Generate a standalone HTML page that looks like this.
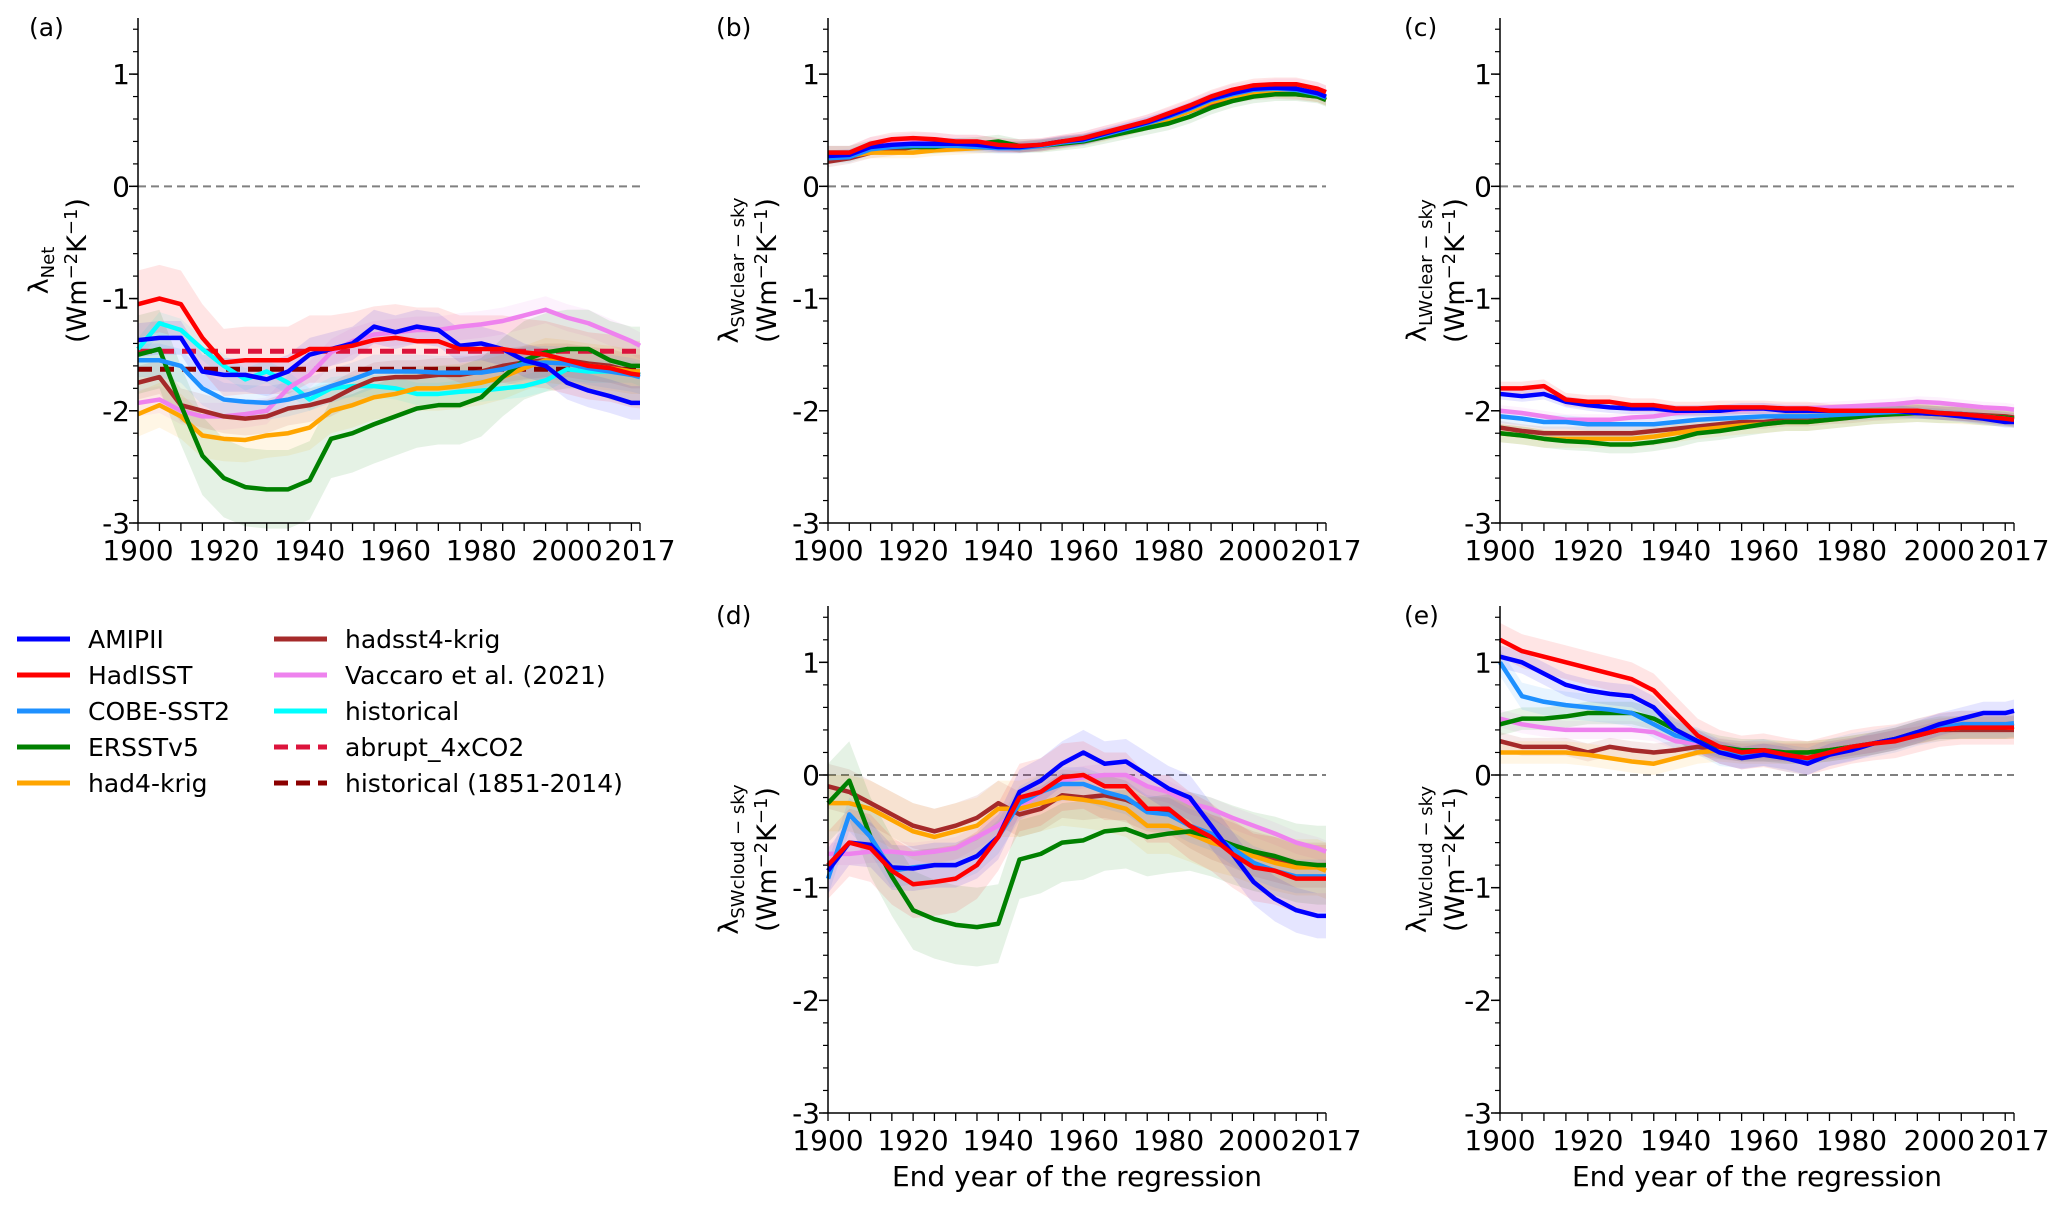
<!DOCTYPE html>
<html><head><meta charset="utf-8"><style>
html,body{margin:0;padding:0;background:#fff}
svg{display:block;font-family:"DejaVu Sans","Liberation Sans",sans-serif}
</style></head><body>
<svg id="fig" width="2067" height="1212" viewBox="0 0 2067 1212" xmlns="http://www.w3.org/2000/svg"></svg>
<script>
const years = [1900,1905,1910,1915,1920,1925,1930,1935,1940,1945,1950,1955,1960,1965,1970,1975,1980,1985,1990,1995,2000,2005,2010,2015,2017];
const seriesNames = ["historical","Vaccaro et al. (2021)","hadsst4-krig","had4-krig","ERSSTv5","COBE-SST2","AMIPII","HadISST"];
const seriesColors = ["#00ffff","#ee82ee","#a52a2a","#ffa500","#008000","#1e90ff","#0000ff","#ff0000"];
const abrupt4xCO2 = -1.47;
const historical1851 = -1.63;
// panel a: lambda Net
const aHist = [-1.45,-1.22,-1.28,-1.45,-1.6,-1.72,-1.65,-1.75,-1.9,-1.8,-1.78,-1.78,-1.8,-1.85,-1.85,-1.83,-1.82,-1.8,-1.78,-1.73,-1.63,-1.65,-1.65,-1.65,-1.68];
const aVacc = [-1.93,-1.9,-2.0,-2.05,-2.05,-2.03,-2.0,-1.8,-1.68,-1.48,-1.38,-1.32,-1.3,-1.28,-1.28,-1.25,-1.23,-1.2,-1.15,-1.1,-1.17,-1.22,-1.3,-1.38,-1.42];
const aHadsst4 = [-1.75,-1.7,-1.95,-2.0,-2.05,-2.07,-2.05,-1.98,-1.95,-1.9,-1.8,-1.72,-1.7,-1.7,-1.68,-1.68,-1.65,-1.6,-1.57,-1.55,-1.55,-1.58,-1.6,-1.65,-1.65];
const aHad4 = [-2.03,-1.95,-2.05,-2.22,-2.25,-2.26,-2.22,-2.2,-2.15,-2.0,-1.95,-1.88,-1.85,-1.8,-1.8,-1.78,-1.75,-1.7,-1.62,-1.55,-1.57,-1.6,-1.62,-1.65,-1.65];
const aErsst = [-1.5,-1.45,-1.95,-2.4,-2.6,-2.68,-2.7,-2.7,-2.62,-2.25,-2.2,-2.12,-2.05,-1.98,-1.95,-1.95,-1.88,-1.7,-1.55,-1.48,-1.45,-1.45,-1.55,-1.6,-1.6];
const aCobe = [-1.55,-1.55,-1.6,-1.8,-1.9,-1.92,-1.93,-1.9,-1.85,-1.78,-1.72,-1.65,-1.65,-1.65,-1.66,-1.66,-1.66,-1.63,-1.58,-1.57,-1.58,-1.62,-1.65,-1.68,-1.7];
const aAmip = [-1.37,-1.35,-1.35,-1.65,-1.68,-1.68,-1.72,-1.65,-1.5,-1.45,-1.4,-1.25,-1.3,-1.25,-1.28,-1.42,-1.4,-1.45,-1.55,-1.6,-1.75,-1.82,-1.87,-1.93,-1.93];
const aHadisst = [-1.05,-1.0,-1.05,-1.35,-1.57,-1.55,-1.55,-1.55,-1.45,-1.45,-1.42,-1.37,-1.35,-1.38,-1.38,-1.45,-1.45,-1.45,-1.48,-1.5,-1.55,-1.6,-1.62,-1.67,-1.68];
const aUnc = [0.1,0.12,0.15,0.2,0.35,0.15,0.15,0.3];
// panel b: SW clear-sky
const bVacc = [0.3,0.3,0.38,0.4,0.42,0.42,0.4,0.4,0.37,0.36,0.37,0.4,0.43,0.48,0.52,0.58,0.64,0.71,0.79,0.85,0.88,0.9,0.9,0.87,0.84];
const bHadsst4 = [0.22,0.25,0.3,0.32,0.35,0.35,0.35,0.35,0.35,0.35,0.37,0.4,0.42,0.46,0.5,0.55,0.6,0.67,0.74,0.79,0.82,0.83,0.82,0.8,0.77];
const bHad4 = [0.25,0.27,0.3,0.3,0.3,0.32,0.33,0.34,0.35,0.35,0.36,0.38,0.41,0.45,0.5,0.55,0.6,0.67,0.75,0.8,0.83,0.84,0.83,0.8,0.77];
const bErsst = [0.3,0.3,0.35,0.35,0.35,0.35,0.37,0.38,0.4,0.36,0.36,0.38,0.4,0.44,0.48,0.52,0.56,0.62,0.7,0.76,0.8,0.82,0.82,0.8,0.77];
const bCobe = [0.25,0.26,0.33,0.35,0.36,0.36,0.36,0.35,0.34,0.34,0.36,0.39,0.41,0.46,0.51,0.56,0.62,0.69,0.77,0.82,0.86,0.87,0.86,0.82,0.79];
const bAmip = [0.27,0.28,0.35,0.37,0.38,0.38,0.38,0.37,0.35,0.35,0.37,0.4,0.42,0.47,0.52,0.57,0.63,0.7,0.78,0.83,0.87,0.88,0.87,0.83,0.8];
const bHadisst = [0.3,0.3,0.38,0.42,0.43,0.42,0.4,0.4,0.37,0.36,0.37,0.4,0.43,0.48,0.53,0.58,0.65,0.72,0.8,0.86,0.9,0.91,0.91,0.87,0.84];
const bUnc = [0,0.06,0.05,0.05,0.06,0.05,0.05,0.06];
// panel c: LW clear-sky
const cVacc = [-2.0,-2.02,-2.05,-2.08,-2.08,-2.08,-2.06,-2.05,-2.02,-2.0,-2.0,-1.99,-1.98,-1.98,-1.98,-1.97,-1.96,-1.95,-1.94,-1.92,-1.93,-1.95,-1.97,-1.98,-1.99];
const cHadsst4 = [-2.15,-2.18,-2.2,-2.2,-2.2,-2.2,-2.2,-2.18,-2.16,-2.14,-2.12,-2.1,-2.1,-2.08,-2.08,-2.06,-2.05,-2.03,-2.02,-2.01,-2.02,-2.03,-2.04,-2.05,-2.06];
const cHad4 = [-2.2,-2.22,-2.25,-2.25,-2.25,-2.25,-2.25,-2.23,-2.2,-2.17,-2.15,-2.13,-2.12,-2.1,-2.1,-2.08,-2.06,-2.04,-2.03,-2.02,-2.03,-2.04,-2.05,-2.06,-2.07];
const cErsst = [-2.2,-2.22,-2.25,-2.27,-2.28,-2.3,-2.3,-2.28,-2.25,-2.2,-2.18,-2.15,-2.12,-2.1,-2.1,-2.08,-2.06,-2.04,-2.03,-2.02,-2.03,-2.03,-2.05,-2.06,-2.07];
const cCobe = [-2.05,-2.07,-2.1,-2.1,-2.12,-2.12,-2.12,-2.12,-2.1,-2.08,-2.07,-2.06,-2.05,-2.05,-2.05,-2.04,-2.03,-2.02,-2.01,-2.01,-2.02,-2.03,-2.05,-2.07,-2.08];
const cAmip = [-1.85,-1.87,-1.85,-1.92,-1.95,-1.97,-1.98,-1.98,-2.0,-2.0,-2.0,-1.98,-1.98,-2.0,-2.0,-2.0,-2.0,-2.0,-2.0,-2.02,-2.03,-2.05,-2.07,-2.1,-2.1];
const cHadisst = [-1.8,-1.8,-1.78,-1.9,-1.92,-1.92,-1.95,-1.95,-1.98,-1.98,-1.97,-1.97,-1.97,-1.98,-1.98,-2.0,-2.0,-2.0,-2.0,-2.0,-2.02,-2.03,-2.05,-2.07,-2.08];
const cUnc = [0,0.05,0.06,0.08,0.08,0.06,0.05,0.06];
// panel d: SW cloud
const dVacc = [-0.7,-0.7,-0.68,-0.68,-0.7,-0.68,-0.65,-0.55,-0.45,-0.3,-0.15,-0.05,-0.02,0.0,0.0,-0.1,-0.15,-0.25,-0.3,-0.38,-0.45,-0.52,-0.6,-0.65,-0.68];
const dHadsst4 = [-0.1,-0.15,-0.25,-0.35,-0.45,-0.5,-0.45,-0.38,-0.25,-0.35,-0.3,-0.18,-0.2,-0.18,-0.22,-0.3,-0.32,-0.45,-0.55,-0.62,-0.7,-0.75,-0.8,-0.8,-0.8];
const dHad4 = [-0.25,-0.25,-0.3,-0.4,-0.5,-0.55,-0.5,-0.45,-0.3,-0.3,-0.25,-0.2,-0.22,-0.25,-0.3,-0.45,-0.45,-0.52,-0.6,-0.65,-0.72,-0.78,-0.82,-0.82,-0.85];
const dErsst = [-0.25,-0.05,-0.55,-0.9,-1.2,-1.28,-1.33,-1.35,-1.32,-0.75,-0.7,-0.6,-0.58,-0.5,-0.48,-0.55,-0.52,-0.5,-0.55,-0.62,-0.68,-0.72,-0.78,-0.8,-0.8];
const dCobe = [-0.92,-0.35,-0.55,-0.85,-0.82,-0.8,-0.8,-0.72,-0.55,-0.25,-0.15,-0.08,-0.08,-0.15,-0.2,-0.33,-0.35,-0.45,-0.52,-0.65,-0.78,-0.85,-0.9,-0.9,-0.9];
const dAmip = [-0.85,-0.6,-0.62,-0.82,-0.83,-0.8,-0.8,-0.72,-0.55,-0.15,-0.05,0.1,0.2,0.1,0.12,0.0,-0.12,-0.2,-0.45,-0.7,-0.95,-1.1,-1.2,-1.25,-1.25];
const dHadisst = [-0.8,-0.6,-0.65,-0.85,-0.97,-0.95,-0.92,-0.8,-0.55,-0.2,-0.15,-0.02,0.0,-0.1,-0.1,-0.3,-0.3,-0.45,-0.55,-0.7,-0.82,-0.85,-0.92,-0.92,-0.92];
const dUnc = [0,0.1,0.2,0.25,0.35,0.15,0.2,0.3];
// panel e: LW cloud
const eVacc = [0.5,0.45,0.42,0.4,0.4,0.4,0.4,0.38,0.3,0.28,0.25,0.22,0.22,0.2,0.2,0.22,0.25,0.28,0.32,0.38,0.42,0.45,0.45,0.45,0.45];
const eHadsst4 = [0.3,0.25,0.25,0.25,0.2,0.25,0.22,0.2,0.22,0.25,0.22,0.2,0.2,0.2,0.2,0.22,0.25,0.28,0.32,0.35,0.4,0.4,0.4,0.4,0.4];
const eHad4 = [0.2,0.2,0.2,0.2,0.18,0.15,0.12,0.1,0.15,0.2,0.22,0.2,0.2,0.2,0.2,0.22,0.25,0.28,0.32,0.38,0.4,0.42,0.42,0.42,0.42];
const eErsst = [0.45,0.5,0.5,0.52,0.55,0.55,0.55,0.5,0.4,0.3,0.25,0.22,0.22,0.2,0.2,0.22,0.25,0.28,0.32,0.38,0.42,0.42,0.42,0.42,0.43];
const eCobe = [1.0,0.7,0.65,0.62,0.6,0.58,0.55,0.45,0.35,0.3,0.2,0.18,0.2,0.15,0.12,0.2,0.25,0.28,0.32,0.38,0.42,0.45,0.45,0.45,0.46];
const eAmip = [1.05,1.0,0.9,0.8,0.75,0.72,0.7,0.6,0.4,0.3,0.2,0.15,0.18,0.15,0.1,0.18,0.22,0.28,0.32,0.38,0.45,0.5,0.55,0.55,0.57];
const eHadisst = [1.2,1.1,1.05,1.0,0.95,0.9,0.85,0.75,0.55,0.35,0.25,0.2,0.22,0.18,0.15,0.2,0.25,0.28,0.3,0.35,0.4,0.42,0.42,0.42,0.42];
const eUnc = [0,0.08,0.08,0.1,0.1,0.12,0.1,0.15];
const xTickLabels = [1900,1920,1940,1960,1980,2000,2017];
const yTickLabels = [1,0,-1,-2,-3];

const NS="http://www.w3.org/2000/svg";
const svg=document.getElementById('fig');
function mk(tag,attrs,parent){const e=document.createElementNS(NS,tag);for(const k in attrs)e.setAttribute(k,attrs[k]);(parent||svg).appendChild(e);return e;}

const panels=[
 {id:'a',x0:138,x1:640,yTop:18,yBot:523,lab:'(a)',labX:29,labY:36,titX:40,sub:'Net',series:[aHist,aVacc,aHadsst4,aHad4,aErsst,aCobe,aAmip,aHadisst],unc:aUnc,refs:true,xlabel:false},
 {id:'b',x0:828,x1:1326,yTop:18,yBot:523,lab:'(b)',labX:716,labY:36,titX:730,sub:'SWclear − sky',series:[null,bVacc,bHadsst4,bHad4,bErsst,bCobe,bAmip,bHadisst],unc:bUnc,xlabel:false},
 {id:'c',x0:1500,x1:2014,yTop:18,yBot:523,lab:'(c)',labX:1404,labY:36,titX:1418,sub:'LWclear − sky',series:[null,cVacc,cHadsst4,cHad4,cErsst,cCobe,cAmip,cHadisst],unc:cUnc,xlabel:false},
 {id:'d',x0:828,x1:1326,yTop:606,yBot:1113,lab:'(d)',labX:716,labY:624,titX:730,sub:'SWcloud − sky',series:[null,dVacc,dHadsst4,dHad4,dErsst,dCobe,dAmip,dHadisst],unc:dUnc,xlabel:true},
 {id:'e',x0:1500,x1:2014,yTop:606,yBot:1113,lab:'(e)',labX:1404,labY:624,titX:1418,sub:'LWcloud − sky',series:[null,eVacc,eHadsst4,eHad4,eErsst,eCobe,eAmip,eHadisst],unc:eUnc,xlabel:true}
];

panels.forEach(p=>{
 const g=mk('g',{});
 
 
 const X=v=>p.x0+(v-1900)/(2017-1900)*(p.x1-p.x0);
 const Y=v=>p.yTop+(1.5-v)/4.5*(p.yBot-p.yTop);
 const z=mk('line',{x1:p.x0,x2:p.x1,y1:Y(0),y2:Y(0),stroke:'#808080','stroke-width':2,'stroke-dasharray':'8,5'},g);
 
 
 p.series.forEach((s,i)=>{
  if(!s||!p.unc[i])return;
  let d='M'+years.map((yr,k)=>X(yr)+','+Y(s[k]+p.unc[i])).join('L');
  for(let k=years.length-1;k>=0;k--)d+='L'+X(years[k])+','+Y(s[k]-p.unc[i]);
  const b=mk('path',{d:d+'Z',fill:seriesColors[i],'fill-opacity':0.1,stroke:'none'},g);
  
  
 });
 if(p.refs){
  const r1=mk('line',{x1:p.x0,x2:p.x1,y1:Y(abrupt4xCO2),y2:Y(abrupt4xCO2),stroke:'#dc143c','stroke-width':5,'stroke-dasharray':'14,8'},g);
  
  
  const r2=mk('line',{x1:p.x0,x2:p.x1,y1:Y(historical1851),y2:Y(historical1851),stroke:'#8b0000','stroke-width':5,'stroke-dasharray':'14,8'},g);
  
  
 }
 p.series.forEach((s,i)=>{
  if(!s)return;
  const l=mk('polyline',{points:years.map((yr,k)=>X(yr)+','+Y(s[k])).join(' '),fill:'none',stroke:seriesColors[i],'stroke-width':4.5,'stroke-linejoin':'round'},g);
  
  
 });
 const ax=mk('path',{d:`M${p.x0},${p.yTop}V${p.yBot}H${p.x1}`,fill:'none',stroke:'#000','stroke-width':1.5},g);
 
 
 for(let v=-3;v<=1.5001;v+=0.2){const yy=Y(v);mk('line',{x1:p.x0-5,x2:p.x0,y1:yy,y2:yy,stroke:'#000','stroke-width':1.2},g);}
 yTickLabels.forEach(v=>{
  mk('line',{x1:p.x0-9,x2:p.x0,y1:Y(v),y2:Y(v),stroke:'#000','stroke-width':1.5},g);
  const t=mk('text',{x:p.x0-8,y:Y(v)+10,'text-anchor':'end','font-size':28},g);t.textContent=v;
  
  
 });
 for(let yr=1900;yr<=2015;yr+=5)mk('line',{x1:X(yr),x2:X(yr),y1:p.yBot,y2:p.yBot+8,stroke:'#000','stroke-width':1.3},g);
 mk('line',{x1:X(2017),x2:X(2017),y1:p.yBot,y2:p.yBot+8,stroke:'#000','stroke-width':1.3},g);
 xTickLabels.forEach(v=>{
  const t=mk('text',{x:X(v),y:p.yBot+37,'text-anchor':'middle','font-size':28},g);t.textContent=v;
  
  
 });
 const pl=mk('text',{x:p.labX,y:p.labY,'font-size':25},g);pl.textContent=p.lab;
 
 
 const cy=(p.yTop+p.yBot)/2;
 const t1=mk('text',{transform:`translate(${p.titX+8},${cy}) rotate(-90)`,'text-anchor':'middle','font-size':27},g);
 t1.innerHTML='λ<tspan font-size="18" dy="6">'+p.sub+'</tspan>';
 
 
 const t2=mk('text',{transform:`translate(${p.titX+46},${cy}) rotate(-90)`,'text-anchor':'middle','font-size':27},g);
 t2.innerHTML='(Wm<tspan font-size="18" dy="-9">−2</tspan><tspan dy="9">K</tspan><tspan font-size="18" dy="-9">−1</tspan><tspan dy="9">)</tspan>';
 
 
 if(p.xlabel){
  const xl=mk('text',{x:(p.x0+p.x1)/2,y:1186,'text-anchor':'middle','font-size':28},g);xl.textContent='End year of the regression';
  
  
 }
});

const legendLabels=["AMIPII","HadISST","COBE-SST2","ERSSTv5","had4-krig","hadsst4-krig","Vaccaro et al. (2021)","historical","abrupt_4xCO2","historical (1851-2014)"];
const legendColors=["#0000ff","#ff0000","#1e90ff","#008000","#ffa500","#a52a2a","#ee82ee","#00ffff","#dc143c","#8b0000"];
const lg=mk('g',{});


const rowsY=[639,675,711,747,783];
legendLabels.forEach((lab,i)=>{
 const col=Math.floor(i/5),row=i%5;
 const lx=col?274:17, tx=col?345:88, yy=rowsY[row];
 const e=mk('g',{},lg);
 
 
 mk('line',{x1:lx,x2:lx+53,y1:yy,y2:yy,stroke:legendColors[i],'stroke-width':5,'stroke-dasharray':i>=8?'14,8':'none'},e);
 const t=mk('text',{x:tx,y:yy+9,'font-size':25},e);t.textContent=lab;
});
</script>
</body></html>
